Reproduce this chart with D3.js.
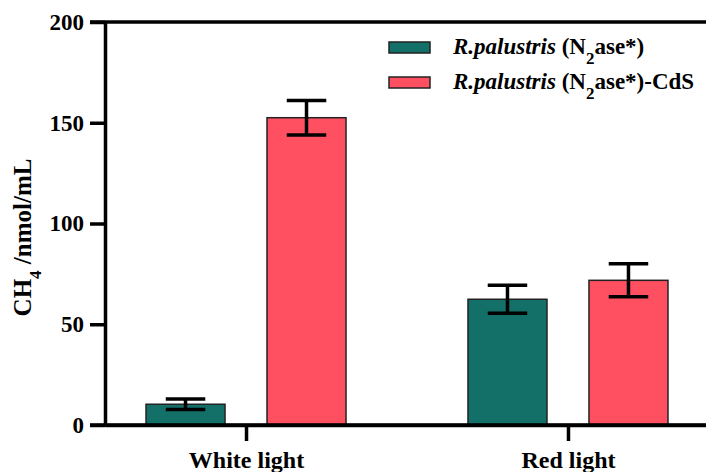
<!DOCTYPE html>
<html lang="en">
<head>
    <meta charset="UTF-8">
    <title>CH4 production</title>
    <script src="https://d3js.org/d3.v7.min.js"></script>
    <style>
        body {
            margin: 0;
            background: #fff;
        }
        svg {
            display: block;
        }
        .axis path,
        .axis line {
            stroke: #000;
            stroke-width: 3.5;
        }
    </style>
</head>
<body>
    <svg width="706" height="472"></svg>

    <script>
        const categories = ['White light', 'Red light'];
        const seriesNames = ['N2ase', 'N2ase-CdS'];
        const means = {
            'N2ase': [10.3, 62.4],
            'N2ase-CdS': [152.5, 71.8]
        };
        const errors = {
            'N2ase': [2.6, 6.9],
            'N2ase-CdS': [8.6, 8.2]
        };
        const yTicks = [0, 50, 100, 150, 200];
        const colors = ['#137069', '#fe5060'];

        const serif = "'Liberation Serif', 'Times New Roman', serif";

        const svg = d3.select('svg')
            .style('font-family', serif)
            .style('font-weight', 'bold');
        const width = 706;
        const height = 472;
        const margin = { top: 22, left: 105, bottom: 47 };

        const x0 = d3.scalePoint()
            .domain(categories)
            .range([margin.left, 709])
            .padding(0.438);

        const x1 = d3.scaleBand()
            .domain(seriesNames)
            .range([-100, 100])
            .paddingInner(0.347);

        const y = d3.scaleLinear()
            .domain([0, 200])
            .range([height - margin.bottom, margin.top]);

        const color = d3.scaleOrdinal().domain(seriesNames).range(colors);

        const rows = [];
        seriesNames.forEach(s => {
            categories.forEach((c, i) => {
                rows.push({ cat: c, series: s, mean: means[s][i], err: errors[s][i] });
            });
        });

        // Bars
        svg.append('g')
            .selectAll('rect')
            .data(rows)
            .enter().append('rect')
            .attr('x', d => x0(d.cat) + x1(d.series))
            .attr('y', d => y(d.mean))
            .attr('width', x1.bandwidth())
            .attr('height', d => y(0) - y(d.mean))
            .attr('fill', d => color(d.series))
            .attr('stroke', '#222')
            .attr('stroke-width', 1.5);

        // Error bars
        const eb = svg.append('g')
            .attr('stroke', '#000')
            .attr('stroke-width', 3.5)
            .selectAll('g')
            .data(rows)
            .enter().append('g')
            .attr('transform', d => `translate(${x0(d.cat) + x1(d.series) + x1.bandwidth() / 2},0)`);

        eb.append('line')
            .attr('y1', d => y(d.mean + d.err))
            .attr('y2', d => y(d.mean - d.err));
        eb.append('line')
            .attr('x1', -x1.bandwidth() / 4).attr('x2', x1.bandwidth() / 4)
            .attr('y1', d => y(d.mean + d.err)).attr('y2', d => y(d.mean + d.err));
        eb.append('line')
            .attr('x1', -x1.bandwidth() / 4).attr('x2', x1.bandwidth() / 4)
            .attr('y1', d => y(d.mean - d.err)).attr('y2', d => y(d.mean - d.err));

        // Y axis
        svg.append('g')
            .attr('class', 'axis')
            .attr('transform', `translate(${margin.left},0)`)
            .call(d3.axisLeft(y).tickValues(yTicks).tickSize(15).tickSizeOuter(0).tickPadding(6))
            .attr('font-family', null)
            .attr('font-size', null)
            .selectAll('text')
            .style('font-family', serif)
            .style('font-size', '23px')
            .attr('fill', '#000');

        // X axis
        svg.append('g')
            .attr('class', 'axis')
            .attr('transform', `translate(0,${y(0)})`)
            .call(d3.axisBottom(x0).tickSize(16).tickSizeOuter(0).tickPadding(10))
            .attr('font-family', null)
            .attr('font-size', null)
            .selectAll('text')
            .style('font-family', serif)
            .style('font-size', '24px')
            .attr('fill', '#000');

        // top frame line and extended baseline
        [200, 0].forEach(v => {
            svg.append('line')
                .attr('x1', margin.left - 15).attr('x2', width)
                .attr('y1', y(v)).attr('y2', y(v))
                .attr('stroke', '#000').attr('stroke-width', 3.5);
        });

        // Y label
        const yl = svg.append('text')
            .attr('transform', `translate(31,${(y(0) + y(200)) / 2 + 14}) rotate(-90)`)
            .attr('text-anchor', 'middle')
            .style('font-family', serif)
            .style('font-size', '25px');
        yl.append('tspan').text('CH');
        yl.append('tspan').attr('baseline-shift', 'sub').style('font-size', '17px').text('4');
        yl.append('tspan').text(' /nmol/mL');

        // Legend
        const legend = svg.append('g')
            .attr('transform', 'translate(389,42)')
            .selectAll('g')
            .data(seriesNames)
            .enter().append('g')
            .attr('transform', (d, i) => `translate(0,${i * 35})`);

        legend.append('rect')
            .attr('width', 41)
            .attr('height', 11)
            .attr('fill', d => color(d))
            .attr('stroke', '#222')
            .attr('stroke-width', 1.5);

        const lt = legend.append('text')
            .attr('x', 64)
            .attr('y', 12)
            .style('font-family', serif)
            .style('font-size', '23px');
        lt.append('tspan').style('font-style', 'italic').text('R.palustris');
        lt.append('tspan').text(' (N');
        lt.append('tspan').attr('baseline-shift', 'sub').style('font-size', '17px').text('2');
        lt.append('tspan').text((d, i) => i === 0 ? 'ase*)' : 'ase*)-CdS');
    </script>
</body>
</html>
